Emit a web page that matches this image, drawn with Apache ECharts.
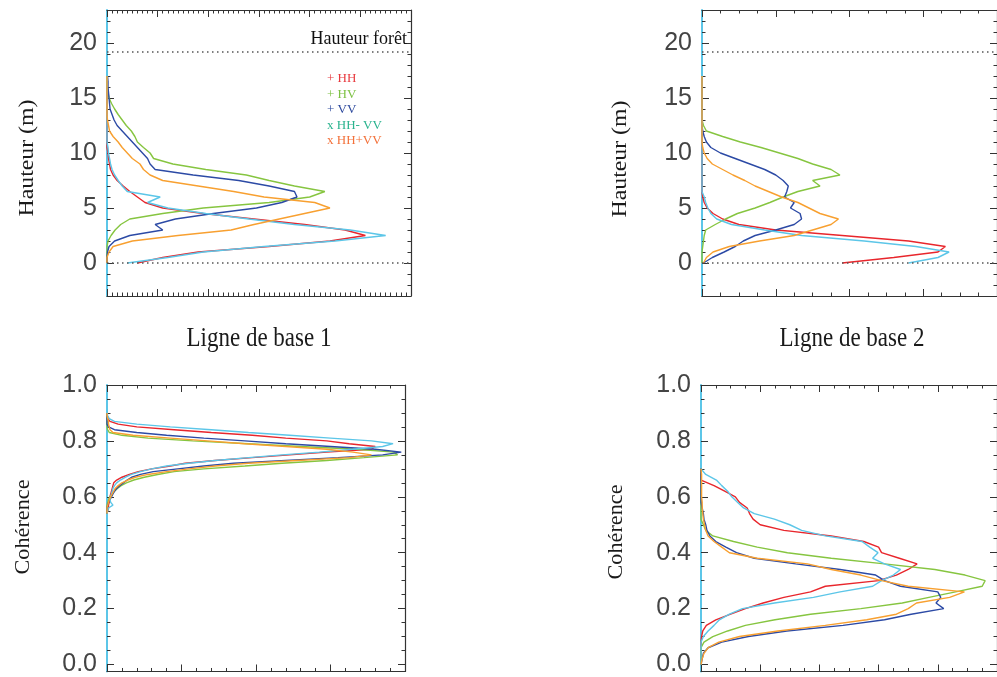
<!DOCTYPE html>
<html><head><meta charset="utf-8">
<script src="https://cdn.jsdelivr.net/npm/echarts@6/dist/echarts.min.js"></script>
<style>html,body{margin:0;padding:0;background:#fff}#c{width:997px;height:677px}</style>
</head><body><div id="c"></div>
<script>
// ---------- DATA ----------
const seriesNames = ['HH', 'HV', 'VV', 'HH- VV', 'HH+VV'];
const legendMarks = ['+', '+', '+', 'x', 'x'];
const hauteurForet = 19.2;
const hauteurTicks = [0, 5, 10, 15, 20];
const hauteurMinorTicks = [-3,-2,-1,0,1,2,3,4,5,6,7,8,9,10,11,12,13,14,15,16,17,18,19,20,21,22,23];
const coherenceTicks = [0, 0.2, 0.4, 0.6, 0.8, 1.0];
const coherenceMinorTicks = [0,0.05,0.1,0.15,0.2,0.25,0.3,0.35,0.4,0.45,0.5,0.55,0.6,0.65,0.7,0.75,0.8,0.85,0.9,0.95,1.0];

// heights (m) for the top panels
const hauteurs = [0,0.5,1,1.5,2,2.5,3,3.5,4,4.5,5,5.5,6,6.5,7,7.5,8,8.5,9,9.5,10,10.5,11,11.5,12,12.5,13,13.5,14,14.5,15,15.5,16,16.5,17];
// Ligne de base 1 - height histograms
const b1HautHH   = [0.6,1.1,1.8,3.2,4.4,5.1,4.7,3.9,2.9,1.9,1.1,0.75,0.6,0.45,0.32,0.2,0.12,0.07,0.05,0.03,0.02,0,0,0,0,0,0,0,0,0,0,0,0,0,0];
const b1HautHV   = [0,0,0,0,0.02,0.08,0.16,0.27,0.45,1.1,1.9,3.2,4.0,4.3,3.7,3.2,2.75,1.95,1.3,0.92,0.85,0.72,0.6,0.55,0.48,0.38,0.3,0.22,0.15,0.09,0.04,0.02,0,0,0];
const b1HautVV   = [0,0,0.01,0.04,0.15,0.45,1.1,0.95,1.35,2.1,2.95,3.45,3.75,3.7,3.2,2.6,1.7,0.95,0.85,0.8,0.7,0.6,0.5,0.4,0.3,0.2,0.14,0.1,0.06,0.05,0.04,0.03,0.02,0.02,0.01];
const b1HautHHmVV = [0.4,1.2,1.9,3.1,4.5,5.5,4.8,3.7,2.8,1.95,1.2,0.8,1.05,0.4,0.3,0.22,0.15,0.1,0.07,0.05,0.03,0.02,0,0,0,0,0,0,0,0,0,0,0,0,0];
const b1HautHHpVV = [0,0,0.04,0.12,0.5,1.4,2.45,2.9,3.4,3.9,4.4,4.1,3.1,2.5,1.8,1.1,0.85,0.72,0.65,0.5,0.4,0.3,0.22,0.12,0.05,0.03,0.01,0,0,0,0,0,0,0,0];
// Ligne de base 2 - height histograms
const b2HautHH   = [1.9,2.6,3.2,3.3,2.8,1.9,1.0,0.5,0.28,0.15,0.07,0.03,0.01,0,0,0,0,0,0,0,0,0,0,0,0,0,0,0,0,0,0,0,0,0,0];
const b2HautHV   = [0,0,0,0.01,0.02,0.03,0.05,0.18,0.32,0.48,0.72,0.92,1.1,1.3,1.6,1.5,1.87,1.75,1.5,1.3,1.05,0.8,0.52,0.28,0.06,0.02,0,0,0,0,0,0,0,0,0];
const b2HautVV   = [0.02,0.14,0.3,0.45,0.56,0.72,1.0,1.25,1.35,1.33,1.2,1.25,1.12,1.15,1.17,1.1,1.0,0.85,0.65,0.45,0.25,0.12,0.06,0.03,0.01,0,0,0,0,0,0,0,0,0,0];
const b2HautHHmVV = [2.8,3.2,3.35,2.9,2.2,1.35,0.85,0.4,0.2,0.12,0.08,0.05,0.03,0,0,0,0,0,0,0,0,0,0,0,0,0,0,0,0,0,0,0,0,0,0];
const b2HautHHpVV = [0.02,0.06,0.15,0.37,0.78,1.25,1.5,1.75,1.85,1.6,1.45,1.3,1.08,0.9,0.72,0.58,0.42,0.28,0.14,0.07,0.03,0.01,0,0,0,0,0,0,0,0,0,0,0,0,0];

// coherence levels, Ligne de base 1
const coherences1 = [0.54,0.55,0.56,0.57,0.58,0.59,0.6,0.61,0.62,0.63,0.64,0.65,0.66,0.67,0.68,0.69,0.7,0.71,0.72,0.73,0.74,0.75,0.76,0.77,0.78,0.79,0.8,0.81,0.82,0.83,0.84,0.85,0.86,0.87,0.88,0.89,0.9];
const b1CohHH   = [0,0.01,0.02,0.02,0.03,0.03,0.04,0.05,0.06,0.07,0.08,0.09,0.13,0.2,0.3,0.42,0.6,0.85,1.05,1.45,1.95,2.45,2.95,3.55,3.6,3.25,2.95,2.4,1.95,1.4,0.9,0.4,0.15,0.04,0.01,0,0];
const b1CohHV   = [0,0,0,0,0.01,0.02,0.04,0.07,0.1,0.14,0.19,0.26,0.36,0.5,0.68,0.9,1.3,1.85,2.35,2.95,3.45,3.9,3.85,3.35,2.6,1.9,1.15,0.55,0.2,0.03,0.01,0,0,0,0,0,0];
const b1CohVV   = [0,0,0,0.01,0.02,0.04,0.06,0.08,0.1,0.13,0.17,0.22,0.27,0.33,0.45,0.62,0.95,1.3,1.7,2.4,3.1,3.7,3.95,3.6,3.0,2.4,1.85,1.3,0.8,0.4,0.1,0.02,0,0,0,0,0];
const b1CohHHmVV = [0,0.01,0.02,0.08,0.05,0.04,0.05,0.06,0.07,0.08,0.1,0.13,0.18,0.25,0.33,0.45,0.6,0.8,1.1,1.45,1.9,2.35,2.85,3.3,3.7,3.84,3.55,3.0,2.45,1.9,1.4,0.85,0.4,0.1,0.03,0.01,0];
const b1CohHHpVV = [0,0,0,0.01,0.02,0.03,0.05,0.07,0.09,0.11,0.15,0.2,0.28,0.38,0.55,0.8,1.1,1.45,1.9,2.55,3.25,3.55,3.3,2.95,2.4,1.85,1.35,0.85,0.35,0.08,0.04,0.03,0.02,0.02,0.01,0,0];

// coherence levels, Ligne de base 2
const coherences2 = [0,0.02,0.04,0.06,0.08,0.1,0.12,0.14,0.16,0.18,0.2,0.22,0.24,0.26,0.28,0.3,0.32,0.34,0.36,0.38,0.4,0.42,0.44,0.46,0.48,0.5,0.52,0.54,0.56,0.58,0.6,0.62,0.64,0.66,0.68,0.7];
const b2CohHH   = [0,0,0,0,0,0.01,0.03,0.09,0.25,0.5,0.75,1.05,1.4,1.85,2.1,3.0,3.3,3.5,3.65,3.35,3.05,3.0,2.75,2.2,1.4,1.0,0.88,0.82,0.78,0.65,0.58,0.4,0.22,0,0,0];
const b2CohHV   = [0,0,0,0,0.05,0.2,0.45,0.75,1.25,1.85,2.7,3.4,3.85,4.3,4.75,4.8,4.46,3.95,3.1,2.2,1.46,0.95,0.55,0.2,0.08,0.04,0,0,0,0,0,0,0,0,0,0];
const b2CohVV   = [0,0.02,0.04,0.12,0.35,0.8,1.45,2.4,3.1,3.55,4.1,3.97,4.05,4.0,3.37,3.1,2.95,2.35,1.6,0.9,0.6,0.42,0.25,0.15,0.1,0.08,0.05,0.04,0.02,0,0,0,0,0,0,0];
const b2CohHHmVV = [0,0,0,0,0,0.04,0.12,0.22,0.31,0.48,0.7,1.24,1.9,2.35,2.9,3.05,3.25,3.37,3.1,2.9,2.99,2.85,2.72,2.1,1.7,1.5,1.24,0.9,0.72,0.62,0.52,0.45,0.35,0.26,0.08,0];
const b2CohHHpVV = [0,0.02,0.05,0.12,0.3,0.65,1.3,2.1,2.8,3.3,3.5,3.64,4.2,4.45,3.5,3.05,2.7,2.2,1.8,0.95,0.48,0.35,0.22,0.12,0.08,0.06,0.04,0.03,0.02,0.02,0.01,0.01,0.01,0.01,0.01,0];

// ---------- STYLE / LAYOUT ----------
const lineColors = ['#e8262c', '#86c540', '#2c4aa5', '#5cc6e8', '#f8a030'];
const legendColors = ['#e8383d', '#7dc143', '#2e4a9e', '#2ab38e', '#f3713a'];
const SANS = 'Liberation Sans, Arial, sans-serif';
const SERIF = 'Liberation Serif, Times New Roman, serif';
const FRAME = '#333';
const CYAN = '#5cc6e8';

const panels = [
  {grid:{left:107, top:10, width:304, height:286}, xMax:6, xMinor:10, yMin:-3, yMax:23,
   major:hauteurTicks, minor:hauteurMinorTicks, fmt:v=>String(v), levels:hauteurs,
   vals:[b1HautHH,b1HautHV,b1HautVV,b1HautHHmVV,b1HautHHpVV], forest:true, label:true},
  {grid:{left:702, top:10, width:318, height:286}, xMax:4, xMinor:4, yMin:-3, yMax:23,
   major:hauteurTicks, minor:hauteurMinorTicks, fmt:v=>String(v), levels:hauteurs,
   vals:[b2HautHH,b2HautHV,b2HautVV,b2HautHHmVV,b2HautHHpVV], forest:true, label:false},
  {grid:{left:107, top:385, width:298, height:287}, xMax:4, xMinor:5, yMin:-0.025, yMax:1.0,
   major:coherenceTicks, minor:coherenceMinorTicks, fmt:v=>v.toFixed(1), levels:coherences1,
   vals:[b1CohHH,b1CohHV,b1CohVV,b1CohHHmVV,b1CohHHpVV], forest:false},
  {grid:{left:701, top:385, width:306, height:287}, xMax:5, xMinor:4, yMin:-0.025, yMax:1.0,
   major:coherenceTicks, minor:coherenceMinorTicks, fmt:v=>v.toFixed(1), levels:coherences2,
   vals:[b2CohHH,b2CohHV,b2CohVV,b2CohHHmVV,b2CohHHpVV], forest:false}
];

const grid = [], xAxis = [], yAxis = [], series = [];
panels.forEach((p, gi) => {
  grid.push(Object.assign({containLabel:false}, p.grid));
  ['bottom','top'].forEach(pos => xAxis.push({
    type:'value', gridIndex:gi, position:pos, min:0, max:p.xMax, interval:1,
    axisLine:{show:true, onZero:false, lineStyle:{color:FRAME, width:1.2}},
    axisTick:{show:true, inside:true, length:7, lineStyle:{color:FRAME, width:1}},
    minorTick:{show:true, splitNumber:p.xMinor, length:3.5, lineStyle:{color:FRAME, width:1}},
    axisLabel:{show:false}, splitLine:{show:false}, minorSplitLine:{show:false}
  }));
  const mkY = (pos, ticks, len, showLine, lineColor, showLabel) => ({
    type:'value', gridIndex:gi, position:pos, min:p.yMin, max:p.yMax,
    axisLine:{show:showLine, onZero:false, lineStyle:{color:lineColor, width: pos==='left'?2:1.2}},
    axisTick:{show:true, inside:true, length:len, customValues:ticks, lineStyle:{color:FRAME, width:1}},
    axisLabel:{show:showLabel, customValues:ticks, formatter:p.fmt, fontSize:25, fontFamily:SANS, color:'#444', margin:10},
    splitLine:{show:false}
  });
  yAxis.push(mkY('left', p.major, 7, true, CYAN, true));
  yAxis.push(mkY('left', p.minor, 3.5, false, CYAN, false));
  yAxis.push(mkY('right', p.major, 7, true, FRAME, false));
  yAxis.push(mkY('right', p.minor, 3.5, false, FRAME, false));

  p.vals.forEach((vals, si) => {
    const s = {
      type:'line', name:seriesNames[si], xAxisIndex:2*gi, yAxisIndex:4*gi,
      data:p.levels.map((lv, i) => [vals[i], lv]),
      showSymbol:false, symbol:'none', clip:true, silent:true,
      lineStyle:{width:1.4, color:lineColors[si]}, itemStyle:{color:lineColors[si]},
      z: 3
    };
    if (si === 0 && p.forest) {
      s.markLine = {
        silent:true, symbol:['none','none'], animation:false,
        lineStyle:{type:[1.5,3.5], color:'#555', width:1.5},
        label:{show:false},
        data:[
          {yAxis:hauteurForet, label:{show:p.label, position:'insideEndTop', formatter:'Hauteur forêt',
            color:'#111', fontSize:18, fontFamily:SERIF, distance:4}},
          {yAxis:0}
        ]
      };
    }
    series.push(s);
  });
});

const textEl = (txt, x, y, size, rot, sx, sy) => ({
  type:'text', x:x, y:y, rotation:rot, scaleX:sx, scaleY:sy, silent:true,
  style:{text:txt, font:`${size}px ${SERIF}`, fill:'#1a1a1a', textAlign:'center', textVerticalAlign:'middle'}
});

const option = {
  animation:false,
  backgroundColor:'#fff',
  grid, xAxis, yAxis, series,
  legend:{
    show:true, orient:'vertical', left:316, top:66.5, itemGap:0.4, itemWidth:1, itemHeight:15,
    icon:'none', selectedMode:false,
    formatter:name => legendMarks[seriesNames.indexOf(name)] + ' ' + name,
    textStyle:{fontFamily:SERIF, fontSize:13, lineHeight:15},
    data:seriesNames.map((n, i) => ({name:n, textStyle:{color:legendColors[i]}}))
  },
  graphic:[
    textEl('Hauteur (m)', 28, 158, 20, Math.PI/2, 1.19, 1),
    textEl('Hauteur (m)', 621, 159, 20, Math.PI/2, 1.19, 1),
    textEl('Cohérence', 23, 527, 21, Math.PI/2, 1.06, 1),
    textEl('Cohérence', 616, 532, 21, Math.PI/2, 1.06, 1),
    textEl('Ligne de base 1', 259, 339, 23, 0, 1, 1.2),
    textEl('Ligne de base 2', 852, 339, 23, 0, 1, 1.2)
  ]
};
const chart = echarts.init(document.getElementById('c'));
chart.setOption(option);
</script></body></html>
